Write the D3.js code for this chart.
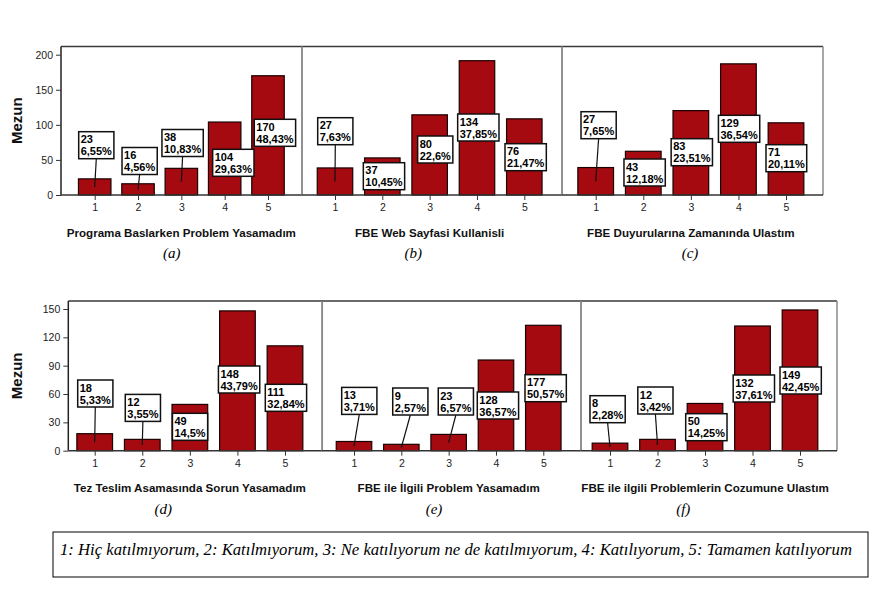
<!DOCTYPE html>
<html><head><meta charset="utf-8">
<script src="https://cdn.jsdelivr.net/npm/d3@7"></script>
<style>
body{margin:0;background:#fff;}
svg{display:block;}
</style></head>
<body>
<svg id="c" width="883" height="596"></svg>
<script>
// ---------- data ----------
const categories = ["1","2","3","4","5"];
const panelTitles = [
  "Programa Baslarken Problem Yasamadım",
  "FBE Web Sayfasi Kullanisli",
  "FBE Duyurularına Zamanında Ulastım",
  "Tez Teslim Asamasında Sorun Yasamadım",
  "FBE ile İlgili Problem Yasamadım",
  "FBE ile ilgili Problemlerin Cozumune Ulastım"
];
const panelLetters = ["(a)","(b)","(c)","(d)","(e)","(f)"];
const countsA = [23,16,38,104,170];
const countsB = [27,37,80,134,76];
const countsC = [27,43,83,129,71];
const countsD = [18,12,49,148,111];
const countsE = [13,9,23,128,177];
const countsF = [8,12,50,132,149];
const percentsA = ["6,55%","4,56%","10,83%","29,63%","48,43%"];
const percentsB = ["7,63%","10,45%","22,6%","37,85%","21,47%"];
const percentsC = ["7,65%","12,18%","23,51%","36,54%","20,11%"];
const percentsD = ["5,33%","3,55%","14,5%","43,79%","32,84%"];
const percentsE = ["3,71%","2,57%","6,57%","36,57%","50,57%"];
const percentsF = ["2,28%","3,42%","14,25%","37,61%","42,45%"];
const axisMax = [200,140,138,150,200,150];   // each panel's own (mostly hidden) value axis
const yTicksTop = [0,50,100,150,200];
const yTicksBottom = [0,30,60,90,120,150];
const yAxisTitle = "Mezun";
const footnote = "1: Hiç katılmıyorum, 2: Katılmıyorum, 3: Ne katılıyorum ne de katılmıyorum, 4: Katılıyorum, 5: Tamamen katılıyorum";

const counts = [countsA,countsB,countsC,countsD,countsE,countsF];
const percents = [percentsA,percentsB,percentsC,percentsD,percentsE,percentsF];

// ---------- layout ----------
const rows = [
  {top:46.5, base:195, scaleTop:54.7},
  {top:301, base:450.7, scaleTop:309}
];
const panels = [
  {row:0, fx:[61,302],   cx:[94.7,268],  axis:yTicksTop,    letterX:171.7},
  {row:0, fx:[302,562],  cx:[335,524.3], axis:null,         letterX:413.3},
  {row:0, fx:[562,823],  cx:[595.7,786], axis:null,         letterX:690},
  {row:1, fx:[68.3,322.3], cx:[94.7,285], axis:yTicksBottom, letterX:163.3},
  {row:1, fx:[322,581],  cx:[354,543.3], axis:null,         letterX:434},
  {row:1, fx:[581,837],  cx:[610,800],   axis:null,         letterX:683.3}
];
// label box offsets (top-left) relative to bar centre x and baseline
const labelOffsets = [
  [[-16,-63.3],[-16,-47.5],[-19.4,-65.5],[-12,-45.7],[-13.7,-75.7]],
  [[-17.3,-77.3],[-19,-32.3],[-12,-59],[-19.3,-81],[-19.3,-51.3]],
  [[-14.7,-83.3],[-19.3,-36],[-19.7,-56.3],[-20,-79.7],[-20,-50.3]],
  [[-17,-70.7],[-17,-56.3],[-17.4,-37.4],[-19,-84.7],[-19.7,-66.4]],
  [[-12.3,-63.3],[-8.6,-62.7],[-10.4,-62.7],[-18.7,-58.7],[-18.3,-76]],
  [[-20,-55],[-19.7,-63.7],[-19.3,-37],[-19.3,-75.7],[-20,-83.7]]
];

const svg = d3.select("#c");
const barFill = "#a50a10";
const font = "Arial, 'Liberation Sans', sans-serif";

panels.forEach((p,i)=>{
  const r = rows[p.row];
  const g = svg.append("g");
  const x = d3.scalePoint().domain(categories).range(p.cx);
  const y = d3.scaleLinear().domain([0,axisMax[i]]).range([r.base, r.scaleTop]);
  const bw = x.step()*0.75;
  const data = categories.map((c,j)=>({c, v:counts[i][j], pct:percents[i][j], off:labelOffsets[i][j]}));

  // frame
  g.append("line").attr("x1",p.fx[0]).attr("x2",p.fx[1]).attr("y1",r.top).attr("y2",r.top)
    .attr("stroke","#3a3a3a").attr("stroke-width",1.5);
  g.append("line").attr("x1",p.fx[1]).attr("x2",p.fx[1]).attr("y1",r.top).attr("y2",r.base)
    .attr("stroke","#8a8a8a").attr("stroke-width",1.5);
  g.append("line").attr("x1",p.fx[0]).attr("x2",p.fx[0]).attr("y1",r.top).attr("y2",r.base)
    .attr("stroke", p.axis ? "#222" : "#8a8a8a").attr("stroke-width",1.5);

  // bars
  g.selectAll("rect.bar").data(data).join("rect").attr("class","bar")
    .attr("x",d=>x(d.c)-bw/2).attr("y",d=>y(d.v))
    .attr("width",bw).attr("height",d=>r.base-y(d.v))
    .attr("fill",barFill).attr("stroke","#1a0000").attr("stroke-width",1.2);

  // baseline
  g.append("line").attr("x1",p.fx[0]).attr("x2",p.fx[1]).attr("y1",r.base).attr("y2",r.base)
    .attr("stroke","#333").attr("stroke-width",1.5);

  // x axis
  const xa = g.append("g").attr("transform",`translate(0,${r.base})`)
    .call(d3.axisBottom(x).tickSize(5).tickPadding(4));
  xa.select(".domain").remove();
  xa.selectAll("line").attr("stroke","#333");
  xa.selectAll("text").attr("font-family",font).attr("font-size","10.5px").attr("fill","#222");

  // y axis
  if (p.axis){
    const ya = g.append("g").attr("transform",`translate(${p.fx[0]},0)`)
      .call(d3.axisLeft(y).tickValues(p.axis).tickSize(5).tickPadding(3));
    ya.select(".domain").remove();
    ya.selectAll("line").attr("stroke","#333");
    ya.selectAll("text").attr("font-family",font).attr("font-size","10.5px").attr("fill","#222");
    g.append("text").attr("transform",`translate(22,${(r.top+r.base)/2}) rotate(-90)`)
      .attr("text-anchor","middle").attr("font-family",font).attr("font-weight","bold")
      .attr("font-size","15px").attr("fill","#111").text(yAxisTitle);
  }

  // titles
  g.append("text").attr("x",x("3")).attr("y",r.base+41.5).attr("text-anchor","middle")
    .attr("font-family",font).attr("font-weight","bold").attr("font-size","11.6px").attr("fill","#111")
    .text(panelTitles[i]);
  g.append("text").attr("x",p.letterX).attr("y",r.base+63).attr("text-anchor","middle")
    .attr("font-family","'Liberation Serif', 'Times New Roman', serif").attr("font-style","italic")
    .attr("font-size","15px").attr("fill","#000").text(panelLetters[i]);

  // data labels
  const leaders = g.append("g"), boxes = g.append("g");
  data.forEach(d=>{
    const bx = x(d.c)+d.off[0], by = r.base+d.off[1];
    const bg = boxes.append("g");
    const rect = bg.append("rect");
    const t1 = bg.append("text").attr("x",bx+2).attr("y",by+11.5).text(d.v);
    const t2 = bg.append("text").attr("x",bx+2).attr("y",by+23.5).text(d.pct);
    bg.selectAll("text").attr("font-family",font).attr("font-weight","bold")
      .attr("font-size","11px").attr("fill","#000");
    const w = Math.max(t1.node().getComputedTextLength(), t2.node().getComputedTextLength())+4;
    const h = 27;
    rect.attr("x",bx).attr("y",by).attr("width",w).attr("height",h)
      .attr("fill","#fff").attr("stroke","#111").attr("stroke-width",1.5);
    leaders.append("line").attr("x1",bx+w/2).attr("y1",by+h)
      .attr("x2",x(d.c)).attr("y2",(y(d.v)+r.base)/2)
      .attr("stroke","#111").attr("stroke-width",1.2);
  });
});

// footnote box
svg.append("rect").attr("x",53).attr("y",532).attr("width",815).attr("height",45)
  .attr("fill","none").attr("stroke","#000").attr("stroke-width",1);
svg.append("text").attr("x",60).attr("y",555)
  .attr("font-family","'Liberation Serif', 'Times New Roman', serif").attr("font-style","italic")
  .attr("font-size","16px").attr("textLength",792).attr("lengthAdjust","spacingAndGlyphs")
  .attr("fill","#000").text(footnote);
</script>
</body></html>
